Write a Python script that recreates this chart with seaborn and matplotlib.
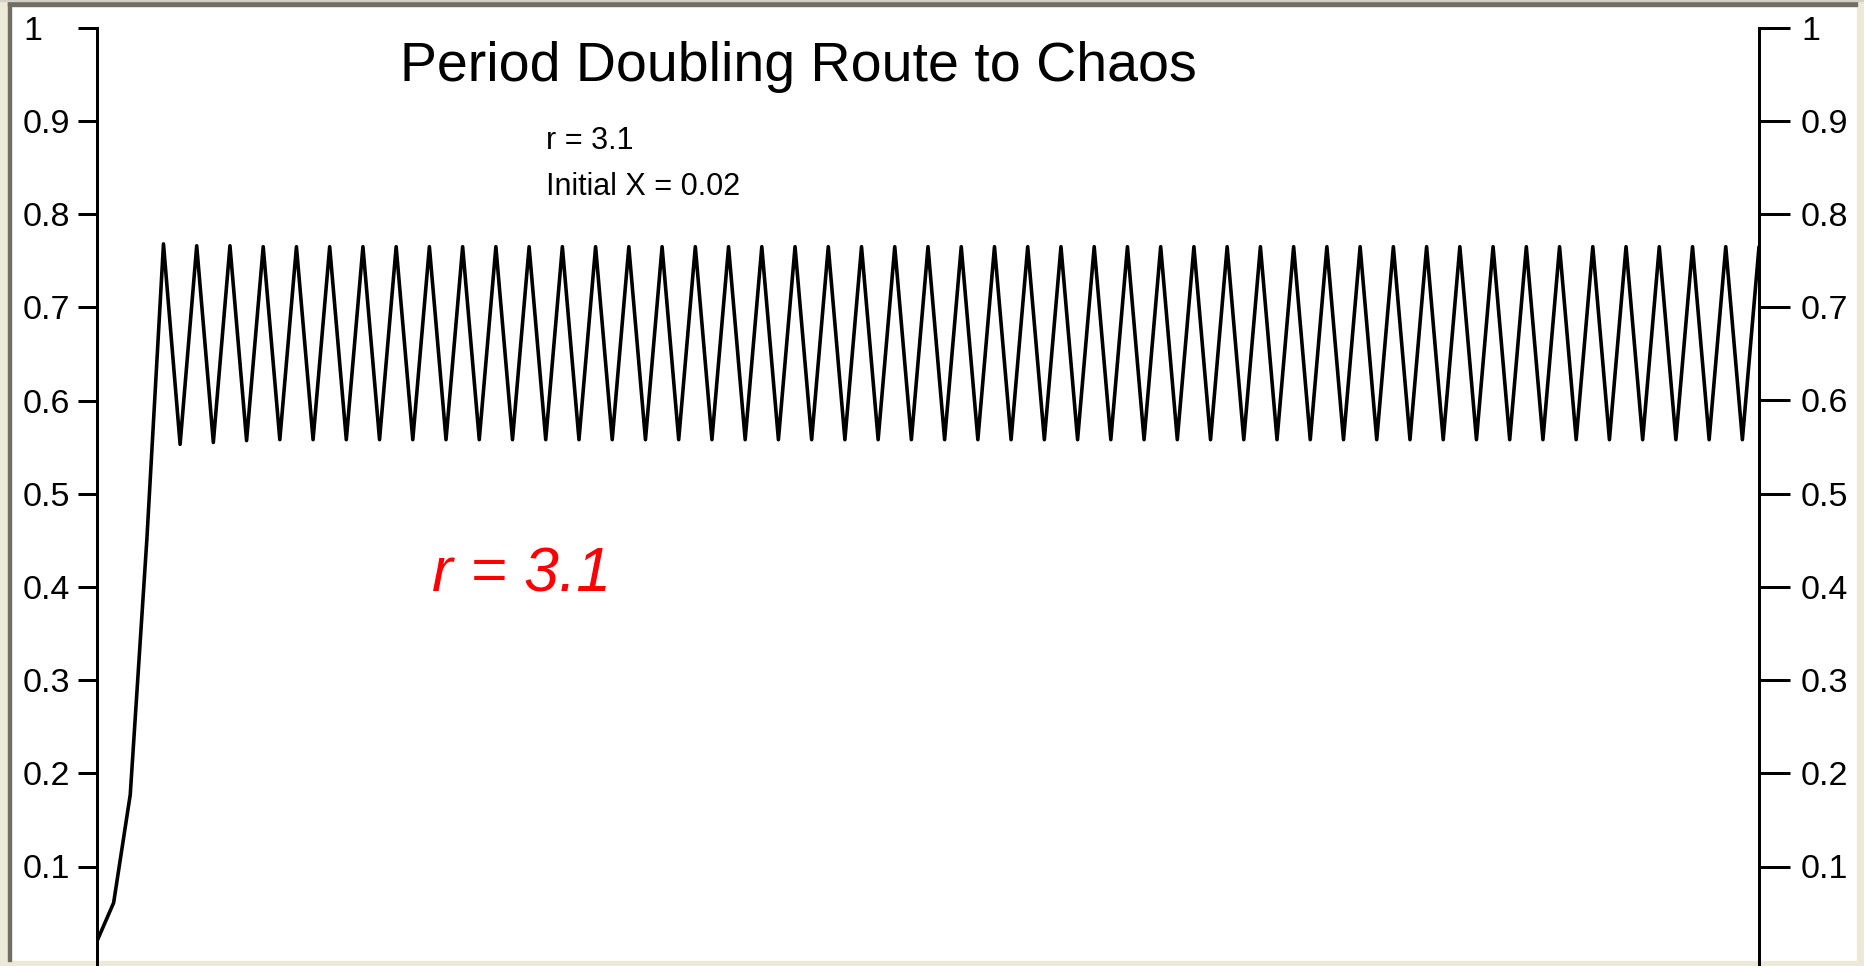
import matplotlib
matplotlib.use("Agg")
import matplotlib.pyplot as plt
from matplotlib.patches import Rectangle
import pandas as pd
import seaborn as sns

# Logistic-map orbit, one value per iteration (r = 3.1, x0 = 0.02)
x_values = [
    0.020, 0.061, 0.177, 0.451, 0.768, 0.553, 0.766, 0.555, 0.766, 0.557,
    0.765, 0.558, 0.765, 0.558, 0.765, 0.558, 0.765, 0.558, 0.765, 0.558,
    0.765, 0.558, 0.765, 0.558, 0.765, 0.558, 0.765, 0.558, 0.765, 0.558,
    0.765, 0.558, 0.765, 0.558, 0.765, 0.558, 0.765, 0.558, 0.765, 0.558,
    0.765, 0.558, 0.765, 0.558, 0.765, 0.558, 0.765, 0.558, 0.765, 0.558,
    0.765, 0.558, 0.765, 0.558, 0.765, 0.558, 0.765, 0.558, 0.765, 0.558,
    0.765, 0.558, 0.765, 0.558, 0.765, 0.558, 0.765, 0.558, 0.765, 0.558,
    0.765, 0.558, 0.765, 0.558, 0.765, 0.558, 0.765, 0.558, 0.765, 0.558,
    0.765, 0.558, 0.765, 0.558, 0.765, 0.558, 0.765, 0.558, 0.765, 0.558,
    0.765, 0.558, 0.765, 0.558, 0.765, 0.558, 0.765, 0.558, 0.765, 0.558,
    0.765,
]
iterations = list(range(len(x_values)))

y_ticks = [0.1, 0.2, 0.3, 0.4, 0.5, 0.6, 0.7, 0.8, 0.9, 1.0]
y_tick_labels = ["0.1", "0.2", "0.3", "0.4", "0.5", "0.6", "0.7", "0.8", "0.9", "1"]

title_text = "Period Doubling Route to Chaos"
param_lines = ["r = 3.1", "Initial X = 0.02"]
highlight_text = "r = 3.1"

W, H, DPI = 1865, 966, 100
PX = 72.0 / DPI  # points per pixel

sns.set_style("white")
plt.rcParams["font.family"] = ["Liberation Sans", "DejaVu Sans"]

fig = plt.figure(figsize=(W / DPI, H / DPI), dpi=DPI, facecolor="white")


def fx(px):
    return px / W


def fy(py):
    return 1 - py / H


# window frame
frame_beige = "#ECE9D8"
frame_dark = "#716F64"
fig.add_artist(Rectangle((0, 0), fx(8), 1, transform=fig.transFigure,
                         color=frame_beige, zorder=0))
fig.add_artist(Rectangle((fx(1857), 0), fx(8), 1, transform=fig.transFigure,
                         color=frame_beige, zorder=0))
fig.add_artist(Rectangle((0, 0), 1, 5 / H, transform=fig.transFigure,
                         color=frame_beige, zorder=0))
fig.add_artist(Rectangle((fx(8), fy(961)), fx(3), (961 - 1) / H,
                         transform=fig.transFigure, color=frame_dark, zorder=0))
fig.add_artist(Rectangle((fx(8), fy(6)), fx(1857 - 8), 5 / H,
                         transform=fig.transFigure, color=frame_dark, zorder=0))
fig.add_artist(Rectangle((0, fy(1)), 1, 1 / H, transform=fig.transFigure,
                         color="#D4D0C8", zorder=0))

# plot area
left_px, right_px, top_px, bottom_px = 97, 1759, 27.7, 959.7
ax = fig.add_axes([fx(left_px), fy(bottom_px), fx(right_px - left_px),
                   (bottom_px - top_px) / H])
ax.patch.set_alpha(0)

df = pd.DataFrame({"iteration": iterations, "x": x_values})
sns.lineplot(data=df, x="iteration", y="x", ax=ax, color="black",
             linewidth=3.6 * PX, estimator=None, sort=False)

ax.set_xlim(0, 100)
ax.set_ylim(0, 1)
ax.set_xticks([])
ax.set_xlabel("")
ax.set_ylabel("")
for side in ["top", "bottom", "right"]:
    ax.spines[side].set_visible(False)
ax.spines["left"].set_linewidth(3 * PX)
ax.spines["left"].set_color("black")
ax.spines["left"].set_bounds(-0.01, 1)

label_size = 24.5
ax.set_yticks(y_ticks, y_tick_labels)
ax.tick_params(axis="y", direction="out", length=19 * PX, width=3 * PX,
               pad=55 * PX, labelsize=label_size, colors="black", left=True)
for lab in ax.get_yticklabels():
    lab.set_horizontalalignment("left")

ax2 = ax.twinx()
ax2.set_ylim(0, 1)
ax2.patch.set_alpha(0)
for side in ["top", "bottom", "left"]:
    ax2.spines[side].set_visible(False)
ax2.spines["right"].set_linewidth(3 * PX)
ax2.spines["right"].set_color("black")
ax2.spines["right"].set_bounds(-0.01, 1)
ax2.set_yticks(y_ticks, y_tick_labels)
ax2.tick_params(axis="y", direction="out", length=31 * PX, width=3 * PX,
                pad=11 * PX, labelsize=label_size, colors="black", right=True)
ax2.set_xticks([])

# titles and annotations
fig.text(fx(798), fy(81), title_text, ha="center", va="baseline",
         fontsize=40, color="black")
fig.text(fx(546), fy(149), param_lines[0], ha="left", va="baseline",
         fontsize=22, color="black")
fig.text(fx(546), fy(195), param_lines[1], ha="left", va="baseline",
         fontsize=22, color="black")
fig.text(fx(432), fy(591), highlight_text, ha="left", va="baseline",
         fontsize=45, style="italic", color="#FF0000")

fig.savefig("out.png", dpi=DPI, facecolor="white")
